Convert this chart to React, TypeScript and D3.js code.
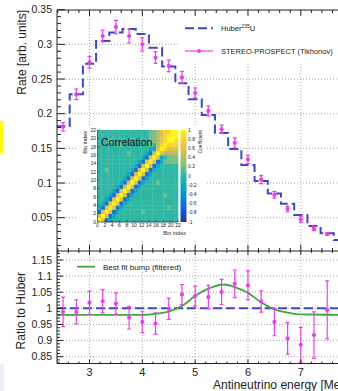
import * as d3 from "d3";

// STEREO-PROSPECT measured rate (arb. units) and ratio to Huber
const energies = [2.5, 2.75, 3.0, 3.25, 3.5, 3.75, 4.0, 4.25, 4.5, 4.75, 5.0, 5.25, 5.5, 5.75, 6.0, 6.25, 6.5, 6.75, 7.0, 7.25, 7.5];
const rate = [0.181, 0.228, 0.274, 0.312, 0.325, 0.312, 0.3, 0.281, 0.269, 0.2525, 0.23, 0.204, 0.1775, 0.158, 0.134, 0.105, 0.083, 0.0626, 0.0477, 0.0347, 0.0265];
const rateErr = [0.006, 0.0077, 0.0084, 0.0084, 0.0096, 0.01, 0.0096, 0.0084, 0.0084, 0.0084, 0.0072, 0.0072, 0.006, 0.0072, 0.006, 0.006, 0.0048, 0.004, 0.0043, 0.003, 0.002];
const ratio = [0.989, 0.989, 1.0175, 1.022, 1.015, 0.971, 0.958, 0.953, 0.999, 1.043, 1.038, 1.035, 1.051, 1.076, 1.071, 1.021, 0.958, 0.907, 0.887, 0.917, 0.995];
const ratioErr = [0.046, 0.037, 0.036, 0.036, 0.033, 0.035, 0.033, 0.033, 0.033, 0.031, 0.031, 0.036, 0.039, 0.043, 0.045, 0.033, 0.043, 0.049, 0.054, 0.072, 0.09];

// Huber 235U prediction, one value per 0.25 MeV bin
const huberCenters = [2.5, 2.75, 3.0, 3.25, 3.5, 3.75, 4.0, 4.25, 4.5, 4.75, 5.0, 5.25, 5.5, 5.75, 6.0, 6.25, 6.5, 6.75, 7.0, 7.25, 7.5, 7.75];
const huber = [0.182, 0.228, 0.272, 0.305, 0.317, 0.322, 0.315, 0.295, 0.268, 0.244, 0.221, 0.198, 0.172, 0.149, 0.126, 0.103, 0.085, 0.07, 0.054, 0.038, 0.0275, 0.018];
const BIN_W = 0.25;

// best fit bump curve
const bumpE = [2.4, 4.0, 4.25, 4.5, 4.75, 5.0, 5.25, 5.55, 5.75, 6.0, 6.25, 6.5, 6.75, 7.0, 7.8];
const bumpR = [0.98, 0.98, 0.983, 0.99, 1.007, 1.038, 1.061, 1.074, 1.066, 1.048, 1.019, 0.997, 0.987, 0.981, 0.98];

const topTicks = [0.05, 0.1, 0.15, 0.2, 0.25, 0.3, 0.35];
const botTicks = [0.85, 0.9, 0.95, 1.0, 1.05, 1.1, 1.15];
const xMajor = [3, 4, 5, 6, 7, 8];

// correlation matrix, rows from bin 0 (bottom) up; 0..X = -1..+1 in 0.2 steps
const corrRows = [
  "X8245555555" + "55555555555",
  "8X824555555" + "55555555555",
  "28X82455555" + "56555555555",
  "428X8245555" + "55555555655",
  "5428X824555" + "55555555555",
  "55428X82455" + "55555555555",
  "555428X8245" + "55555556555",
  "5555428X824" + "55555555555",
  "55555428X82" + "45555555555",
  "555555428X8" + "24555655555",
  "5555555428X" + "82455555555",
  "55555555428" + "X8245555555",
  "55655555542" + "8X824555555",
  "55555555554" + "28X82455555",
  "55555555555" + "428X8246666",
  "55555555555" + "5428X845666",
  "55555555655" + "55428X87777",
  "55555555555" + "555448X9888",
  "55555565555" + "5556579X999",
  "55565555555" + "55566789XX9",
  "55555555555" + "55566789XXX",
  "55555555555" + "555667899XX",
];
const corrLevels = "0123456789X";
const cbTicks = [1, 0.8, 0.6, 0.4, 0.2, 0, -0.2, -0.4, -0.6, -0.8, -1];
const binTicks = [0, 2, 4, 6, 8, 10, 12, 14, 16, 18, 20, 22];

// ROOT kBird palette
const birdR = [0.2082, 0.0592, 0.078, 0.0232, 0.1802, 0.5301, 0.8186, 0.9956, 0.9764];
const birdG = [0.1664, 0.3599, 0.5041, 0.6419, 0.7178, 0.7492, 0.7328, 0.7862, 0.9832];
const birdB = [0.5293, 0.8684, 0.8385, 0.7914, 0.6425, 0.4662, 0.3499, 0.1968, 0.0539];
const birdColors = birdR.map((r, i) => d3.rgb(r * 255, birdG[i] * 255, birdB[i] * 255).formatHex());

const FONT = "'Liberation Sans', Arial, Helvetica, sans-serif";
const INK = "#222";
const MAG = "#ee3cee";
const BLUE = "#3e46cc";
const GREEN = "#3aaa3a";
const GRID = "#9a9a9a";

export default function App() {
  const W = 338;
  const H = 391;
  const L = 57;
  const R = 360;
  const T1 = 10;
  const B1 = 251;
  const B2 = 363.5;

  const x = d3.scaleLinear().domain([3, 7]).range([89.5, 300.8]);
  const yTop = d3.scaleLinear().domain([0.05, 0.35]).range([217.7, 9.7]);
  const yBot = d3.scaleLinear().domain([0.85, 1.15]).range([356.7, 260]);
  const x0 = x.invert(L);

  const xMinor = d3.range(24, 81, 2).map((v) => v / 10).filter((v) => v > x0 && v % 1 !== 0);
  const topMinor = d3.range(1, 36).map((v) => v / 100).filter((v) => yTop(v) <= B1 && Math.round(v * 100) % 5 !== 0);
  const botMinor = d3.range(83, 118).map((v) => v / 100).filter((v) => yBot(v) <= B2 && yBot(v) >= B1 && Math.round(v * 100) % 5 !== 0);

  const huberPts: [number, number][] = [];
  huberCenters.forEach((c, i) => {
    huberPts.push([c - BIN_W / 2, huber[i]]);
    huberPts.push([c + BIN_W / 2, huber[i]]);
  });
  const huberPath = d3.line<[number, number]>().x((d) => x(d[0])).y((d) => yTop(d[1]))(huberPts) || "";
  const bumpPath = d3.line<number>().x((_, i) => x(bumpE[i])).y((d) => yBot(d)).curve(d3.curveMonotoneX)(bumpR) || "";

  // inset correlation matrix
  const mx = d3.scaleLinear().domain([0, 22]).range([97.5, 178]);
  const my = d3.scaleLinear().domain([0, 22]).range([222, 130]);
  const color = d3.scaleLinear<string>().domain(d3.range(9).map((i) => -1 + (2 * i) / 8)).range(birdColors).interpolate(d3.interpolateRgb);
  const cb = d3.scaleLinear().domain([-1, 1]).range([222, 130]);

  const tick = (x1: number, y1: number, x2: number, y2: number, k: string) => (
    <line key={k} x1={x1} y1={y1} x2={x2} y2={y2} stroke={INK} strokeWidth={1} />
  );

  return (
    <svg width={W} height={H} style={{ position: "absolute", left: 0, top: 0, background: "#fff" }} fontFamily={FONT}>
      <defs>
        <clipPath id="pad1"><rect x={L} y={T1} width={R - L} height={B1 - T1} /></clipPath>
        <clipPath id="pad2"><rect x={L} y={B1} width={R - L} height={B2 - B1} /></clipPath>
        <linearGradient id="bird" x1="0" y1="1" x2="0" y2="0">
          {birdColors.map((c, i) => <stop key={i} offset={i / 8} stopColor={c} />)}
        </linearGradient>
      </defs>
      <rect width={W} height={H} fill="#fff" />
      <rect x={0} y={121} width={3.5} height={32} fill="#ffff00" />
      <rect x={0} y={364} width={4} height={27} fill="#e9eef8" />

      {/* grids */}
      <g stroke={GRID} strokeWidth={0.9} strokeDasharray="1 2" fill="none">
        {topTicks.slice(0, -1).map((v) => <line key={"gt" + v} x1={L} x2={R} y1={yTop(v)} y2={yTop(v)} />)}
        {xMajor.slice(0, 5).map((v) => <line key={"gv" + v} x1={x(v)} x2={x(v)} y1={T1} y2={B1} />)}
        {botTicks.map((v) => <line key={"gb" + v} x1={L} x2={R} y1={yBot(v)} y2={yBot(v)} />)}
        {xMajor.slice(0, 5).map((v) => <line key={"gw" + v} x1={x(v)} x2={x(v)} y1={B1} y2={B2} />)}
      </g>

      {/* legend boxes */}
      <rect x={178} y={11} width={160} height={52} fill="#fff" />
      <rect x={70} y={262} width={116} height={10} fill="#fff" />

      {/* top pad data */}
      <g clipPath="url(#pad1)">
        <path d={huberPath} fill="none" stroke={BLUE} strokeWidth={2} strokeDasharray="9 4" />
        {energies.map((e, i) => (
          <g key={"p" + i} stroke={MAG} strokeWidth={1.2}>
            <line x1={x(e)} x2={x(e)} y1={yTop(rate[i] - rateErr[i])} y2={yTop(rate[i] + rateErr[i])} />
            <line x1={x(e) - 2} x2={x(e) + 2} y1={yTop(rate[i] - rateErr[i])} y2={yTop(rate[i] - rateErr[i])} />
            <line x1={x(e) - 2} x2={x(e) + 2} y1={yTop(rate[i] + rateErr[i])} y2={yTop(rate[i] + rateErr[i])} />
            <circle cx={x(e)} cy={yTop(rate[i])} r={2.1} fill={MAG} stroke="none" />
          </g>
        ))}
      </g>

      {/* bottom pad data */}
      <g clipPath="url(#pad2)">
        <line x1={L} x2={R} y1={yBot(1)} y2={yBot(1)} stroke={BLUE} strokeWidth={2} strokeDasharray="9 4" />
        <path d={bumpPath} fill="none" stroke={GREEN} strokeWidth={1.8} />
        {energies.map((e, i) => (
          <g key={"r" + i} stroke={MAG} strokeWidth={1.2}>
            <line x1={x(e)} x2={x(e)} y1={yBot(ratio[i] - ratioErr[i])} y2={yBot(ratio[i] + ratioErr[i])} />
            <line x1={x(e) - 2} x2={x(e) + 2} y1={yBot(ratio[i] - ratioErr[i])} y2={yBot(ratio[i] - ratioErr[i])} />
            <line x1={x(e) - 2} x2={x(e) + 2} y1={yBot(ratio[i] + ratioErr[i])} y2={yBot(ratio[i] + ratioErr[i])} />
            <circle cx={x(e)} cy={yBot(ratio[i])} r={2.1} fill={MAG} stroke="none" />
          </g>
        ))}
      </g>

      {/* frames and ticks */}
      <g>
        <line x1={L} x2={R} y1={T1} y2={T1} stroke={INK} />
        <line x1={L} x2={R} y1={B1} y2={B1} stroke={INK} />
        <line x1={L} x2={R} y1={B2} y2={B2} stroke={INK} />
        <line x1={L} x2={L} y1={T1} y2={B2} stroke={INK} />
        {xMajor.map((v) => tick(x(v), T1, x(v), T1 + 6, "tm" + v))}
        {xMinor.map((v) => tick(x(v), T1, x(v), T1 + 3, "tn" + v))}
        {xMajor.map((v) => tick(x(v), B1 - 6, x(v), B1 + 4, "bm" + v))}
        {xMinor.map((v) => tick(x(v), B1 - 3, x(v), B1 + 2, "bn" + v))}
        {xMajor.map((v) => tick(x(v), B2, x(v), B2 - 4, "cm" + v))}
        {xMinor.map((v) => tick(x(v), B2, x(v), B2 - 2, "cn" + v))}
        {topTicks.map((v) => tick(L, yTop(v), L + 8, yTop(v), "ym" + v))}
        {topMinor.map((v) => tick(L, yTop(v), L + 4, yTop(v), "yn" + v))}
        {botTicks.map((v) => tick(L, yBot(v), L + 6, yBot(v), "zm" + v))}
        {botMinor.map((v) => tick(L, yBot(v), L + 3, yBot(v), "zn" + v))}
      </g>

      {/* tick labels */}
      <g fill={INK} fontSize={10.5} textAnchor="end">
        {topTicks.map((v) => <text key={"lt" + v} x={52} y={yTop(v) + 3.7}>{String(v)}</text>)}
        {botTicks.map((v) => <text key={"lb" + v} x={52} y={yBot(v) + 3.7}>{String(v)}</text>)}
      </g>
      <g fill={INK} fontSize={11} textAnchor="middle">
        {xMajor.filter((v) => x(v) < W - 6).map((v) => <text key={"lx" + v} x={x(v)} y={375.5}>{v}</text>)}
      </g>
      <text transform="translate(26,10) rotate(-90)" textAnchor="end" fontSize={12} fill={INK}>Rate [arb. units]</text>
      <text transform="translate(25,272) rotate(-90)" textAnchor="end" fontSize={12} fill={INK}>Ratio to Huber</text>
      <text x={213} y={389} fontSize={12} fill={INK}>Antineutrino energy [MeV]</text>

      {/* legends */}
      <line x1={185} x2={213} y1={28.3} y2={28.3} stroke={BLUE} strokeWidth={2} strokeDasharray="9 4" />
      <text x={221} y={31} fontSize={7.5} fill={INK}>Huber<tspan fontSize={5} dy={-3.5}>235</tspan><tspan dy={3.5}>U</tspan></text>
      <line x1={185} x2={213} y1={51} y2={51} stroke={MAG} strokeWidth={1.2} />
      <circle cx={199} cy={51} r={2.1} fill={MAG} />
      <text x={221} y={53.8} fontSize={7.5} fill={INK}>STEREO-PROSPECT (Tikhonov)</text>
      <line x1={77} x2={95} y1={266.7} y2={266.7} stroke={GREEN} strokeWidth={1.8} />
      <text x={103} y={269.5} fontSize={8} fill={INK}>Best fit bump (filtered)</text>

      {/* inset */}
      <rect x={78} y={126} width={127} height={114} fill="#fff" />
      <g>
        {corrRows.map((row, i) =>
          row.split("").map((c, j) => (
            <rect key={`c${i}-${j}`} x={mx(j)} y={my(i + 1)} width={mx(j + 1) - mx(j) + 0.3} height={my(i) - my(i + 1) + 0.3}
              fill={color(-1 + corrLevels.indexOf(c) * 0.2)} />
          ))
        )}
        <rect x={180.5} y={130} width={6} height={92} fill="url(#bird)" />
        <line x1={mx(0)} x2={mx(22)} y1={my(0)} y2={my(0)} stroke={INK} strokeWidth={0.6} />
        <line x1={mx(0)} x2={mx(0)} y1={my(0)} y2={my(22)} stroke={INK} strokeWidth={0.6} />
        {binTicks.map((v) => (
          <g key={"bt" + v}>
            <line x1={mx(v)} x2={mx(v)} y1={my(0)} y2={my(0) - 2} stroke={INK} strokeWidth={0.5} />
            <line x1={mx(0)} x2={mx(0) + 2} y1={my(v)} y2={my(v)} stroke={INK} strokeWidth={0.5} />
          </g>
        ))}
        <g fontSize={5} fill={INK}>
          {binTicks.map((v) => <text key={"bx" + v} x={mx(v)} y={227} textAnchor="middle">{v}</text>)}
          {binTicks.map((v) => <text key={"by" + v} x={96} y={my(v) + 1.8} textAnchor="end">{v}</text>)}
          {cbTicks.map((v) => <text key={"cb" + v} x={188} y={cb(v) + 1.6}>{String(v)}</text>)}
        </g>
        <text x={186} y={235} textAnchor="end" fontSize={5.5} fill={INK}>Bin index</text>
        <text transform="translate(87,131) rotate(-90)" textAnchor="end" fontSize={5.5} fill={INK}>Bin index</text>
        <text transform="translate(202,130) rotate(-90)" textAnchor="end" fontSize={5} fill={INK}>Coefficient</text>
        <text x={101} y={146} fontSize={10.5} fill="#111">Correlation</text>
      </g>
    </svg>
  );
}
